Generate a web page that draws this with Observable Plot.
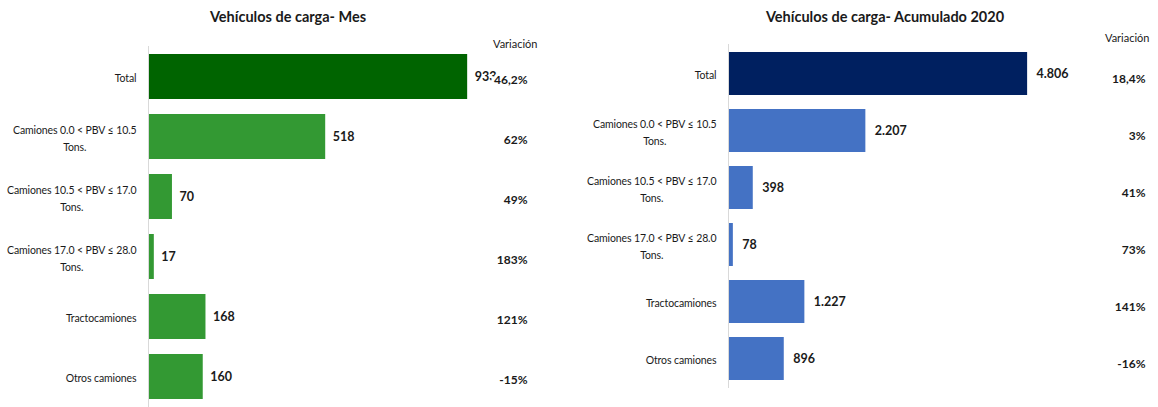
<!DOCTYPE html>
<html>
<head>
<meta charset="utf-8">
<script src="https://cdn.jsdelivr.net/npm/d3@7"></script>
<script src="https://cdn.jsdelivr.net/npm/@observablehq/plot@0.6"></script>
<style>
  html, body { margin: 0; padding: 0; background: #fff; }
  #wrap { position: relative; width: 1158px; height: 407px; overflow: hidden;
          font-family: Lato, "DejaVu Sans Condensed", sans-serif; color: #1a1a1a; }
  .title { position: absolute; top: 8px; font-weight: bold; font-size: 14.5px; text-align: center; white-space: nowrap; transform: translateX(-50%); }
  .chart { position: absolute; top: 0; }
</style>
</head>
<body>
<div id="wrap">
  <div class="title" style="left:288px">Vehículos de carga- Mes</div>
  <div class="title" style="left:885px">Vehículos de carga- Acumulado 2020</div>
  <div class="chart" id="left" style="left:0px"></div>
  <div class="chart" id="right" style="left:579px"></div>
</div>
<script>
// ---- data ----
const categories = [
  "Total",
  "Camiones 0.0 < PBV ≤ 10.5\nTons.",
  "Camiones 10.5 < PBV ≤ 17.0\nTons.",
  "Camiones 17.0 < PBV ≤ 28.0\nTons.",
  "Tractocamiones",
  "Otros camiones"
];
const mesValues = [933, 518, 70, 17, 168, 160];
const mesVariacion = ["46,2%", "62%", "49%", "183%", "121%", "-15%"];
const acumValues = [4806, 2207, 398, 78, 1227, 896];
const acumVariacion = ["18,4%", "3%", "41%", "73%", "141%", "-16%"];
const variacionHeader = "Variación";

const esLocale = d3.formatLocale({decimal: ",", thousands: ".", grouping: [3], currency: ["", "€"]});
const fmt = esLocale.format(",d");
const FONT = 'Lato, "DejaVu Sans Condensed", sans-serif';

function makeChart(opts) {
  const rows = categories.map((c, i) => ({cat: c, value: opts.values[i], variacion: opts.variacion[i]}));
  const svg = Plot.plot({
    width: 579,
    height: 407,
    marginLeft: opts.marginLeft,
    marginRight: opts.marginRight,
    marginTop: opts.marginTop,
    marginBottom: opts.marginBottom,
    style: {fontFamily: FONT, color: "#1a1a1a", background: "transparent"},
    x: {domain: [0, opts.xMax], axis: null},
    y: {domain: categories, paddingInner: 0.25, paddingOuter: 0.125, label: null},
    marks: [
      Plot.barX(rows, {y: "cat", x: "value", fill: d => d.cat === "Total" ? opts.dark : opts.light}),
      Plot.ruleX([0], {stroke: "#d9d9d9", strokeWidth: 1}),
      Plot.axisY({tickSize: 0, tickPadding: 12, fontSize: 10.5, lineHeight: 1.6, label: null, fill: "#1a1a1a"}),
      Plot.text(rows, {y: "cat", x: "value", text: d => fmt(d.value), textAnchor: "start", dx: opts.valueDx,
                       fontSize: 12.5, fontWeight: "bold", fill: "#1a1a1a"}),
      Plot.text(rows, {y: "cat", text: "variacion", frameAnchor: "right", textAnchor: "end",
                       dx: opts.varDx, dy: opts.varDy, fontSize: 12, fontWeight: "bold", fill: "#1a1a1a",
                       stroke: "white", strokeWidth: 6, paintOrder: "stroke"}),
      Plot.text([variacionHeader], {text: d => d, frameAnchor: "top-right", textAnchor: "end", lineAnchor: "middle",
                       dx: opts.headDx, dy: opts.headDy, fontSize: 11, fill: "#1a1a1a"})
    ]
  });
  document.getElementById(opts.id).append(svg);
  // center multi-line tick labels as blocks, right-aligned against the axis
  svg.querySelectorAll('[aria-label="y-axis tick label"] text').forEach(t => {
    t.setAttribute("letter-spacing", "-0.1");
    const tsp = t.querySelectorAll("tspan");
    if (tsp.length < 2) return;
    const w = t.getBBox().width;
    const x0 = +(t.getAttribute("x") || 0);
    t.setAttribute("text-anchor", "middle");
    tsp.forEach(s => s.setAttribute("x", x0 - w / 2));
  });
}

makeChart({id: "left", values: mesValues, variacion: mesVariacion,
  marginLeft: 148, marginRight: 40, marginTop: 46, marginBottom: 0, xMax: 1143,
  dark: "#006400", light: "#339933", valueDx: 7, varDx: -12, varDy: 3, headDx: -2, headDy: -2});
makeChart({id: "right", values: acumValues, variacion: acumVariacion,
  marginLeft: 149, marginRight: 13, marginTop: 44, marginBottom: 19, xMax: 6700,
  dark: "#002060", light: "#4472C4", valueDx: 9, varDx: 0, varDy: 5, headDx: 4, headDy: -6});
</script>
</body>
</html>
